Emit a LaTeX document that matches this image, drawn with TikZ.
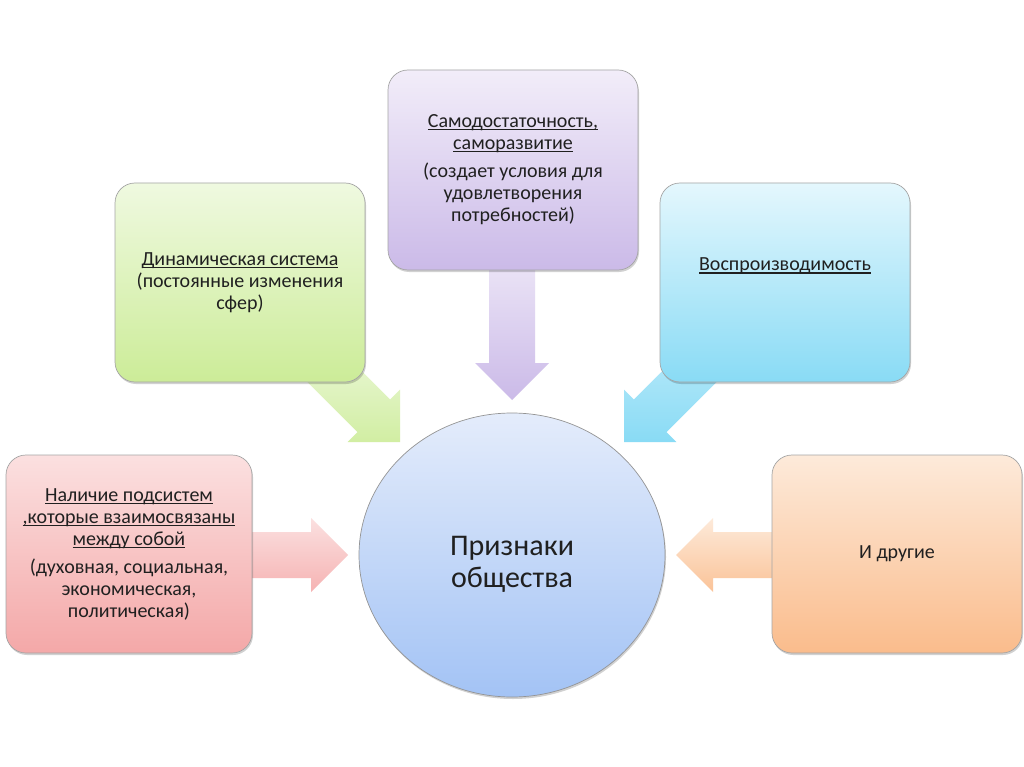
\documentclass[tikz,border=0pt]{standalone}
\usepackage{fontspec}
\setmainfont{Carlito}
\usetikzlibrary{shapes.geometric,shadows}
\definecolor{txt}{RGB}{32,32,32}
\definecolor{purT}{RGB}{242,237,249}
\definecolor{purB}{RGB}{203,186,232}
\definecolor{grnT}{RGB}{239,249,224}
\definecolor{grnB}{RGB}{204,236,152}
\definecolor{bluT}{RGB}{228,247,253}
\definecolor{bluB}{RGB}{137,219,245}
\definecolor{pnkT}{RGB}{251,224,224}
\definecolor{pnkB}{RGB}{244,168,168}
\definecolor{orgT}{RGB}{253,234,218}
\definecolor{orgB}{RGB}{250,188,140}
\definecolor{cirT}{RGB}{228,236,251}
\definecolor{cirB}{RGB}{163,195,245}
\definecolor{edge}{RGB}{165,165,165}
\newcommand\ulx[1]{\setbox0\hbox{#1}\rlap{\rule[-2.6pt]{\wd0}{1.1pt}}\box0}
\begin{document}
\begin{tikzpicture}[x=1pt,y=-1pt,
  box/.style={rounded corners=20pt, draw=edge, line width=0.7pt,
    minimum width=250pt, minimum height=199pt, align=center, text=txt,
    font=\fontsize{20}{22}\selectfont, inner sep=0pt,
    drop shadow={shadow xshift=1pt, shadow yshift=-2pt, opacity=0.18, fill=black}},
  blockarrow/.style={draw=none},
]
\fill[white] (0,0) rectangle (1024,767);
\useasboundingbox (0,0) rectangle (1024,767);

% block arrows
\shade[blockarrow, top color=purT!80!purB, bottom color=purB]
  (489,266) -- (535,266) -- (535,363) -- (549,363) -- (512,400) -- (475,363) -- (489,363) -- cycle;
\shade[blockarrow, top color=grnT, bottom color=grnB!85!grnT, shading angle=0]
  (319.4,328.8) -- (390.1,399.5) -- (400,389.6) -- (400,442) -- (347.6,442) -- (357.5,432.1) -- (286.8,361.4) -- cycle;
\shade[blockarrow, top color=bluT!60!bluB, bottom color=bluB]
  (704.6,328.8) -- (633.9,399.5) -- (624,389.6) -- (624,442) -- (676.4,442) -- (666.5,432.1) -- (737.2,361.4) -- cycle;
\shade[blockarrow, top color=pnkT, bottom color=pnkB!80!pnkT]
  (250,532) -- (311,532) -- (311,518) -- (348,555) -- (311,592) -- (311,578) -- (250,578) -- cycle;
\shade[blockarrow, top color=orgT, bottom color=orgB!85!orgT]
  (774,532) -- (713,532) -- (713,518) -- (676,555) -- (713,592) -- (713,578) -- (774,578) -- cycle;

% boxes
\node[box, top color=purT, bottom color=purB, minimum height=200pt] (self) at (513,170)
  {\ulx{Самодостаточность,}\\ \ulx{саморазвитие}\\[6pt]
   (создает условия для\\ удовлетворения\\ потребностей)};
\node[box, top color=grnT, bottom color=grnB] (dyn) at (240,282.5)
  {\ulx{Динамическая система}\\ (постоянные изменения\\ сфер)};
\node[box, top color=bluT, bottom color=bluB] (repr) at (785,282.5)
  {\ulx{Воспроизводимость}\\[-8pt]\mbox{}\\ \mbox{}};
\node[box, top color=pnkT, bottom color=pnkB, minimum width=246pt, minimum height=198pt] (sub) at (129,554)
  {\ulx{Наличие подсистем}\\ \ulx{,которые взаимосвязаны}\\ \ulx{между собой}\\[6pt]
   (духовная, социальная,\\ экономическая,\\ политическая)};
\node[box, top color=orgT, bottom color=orgB, minimum height=198pt] (oth) at (897,554)
  {И другие};

% central circle
\node[ellipse, draw=edge!90!black, line width=0.7pt, top color=cirT, bottom color=cirB,
  minimum width=306pt, minimum height=284pt, inner sep=0pt,
  drop shadow={shadow xshift=1pt, shadow yshift=-2pt, opacity=0.18, fill=black}] (soc) at (512,555) {};
\node[text=txt, align=center, font=\fontsize{30}{32}\selectfont] (soctext) at (512,564)
  {Признаки\\ общества};
\end{tikzpicture}
\end{document}
